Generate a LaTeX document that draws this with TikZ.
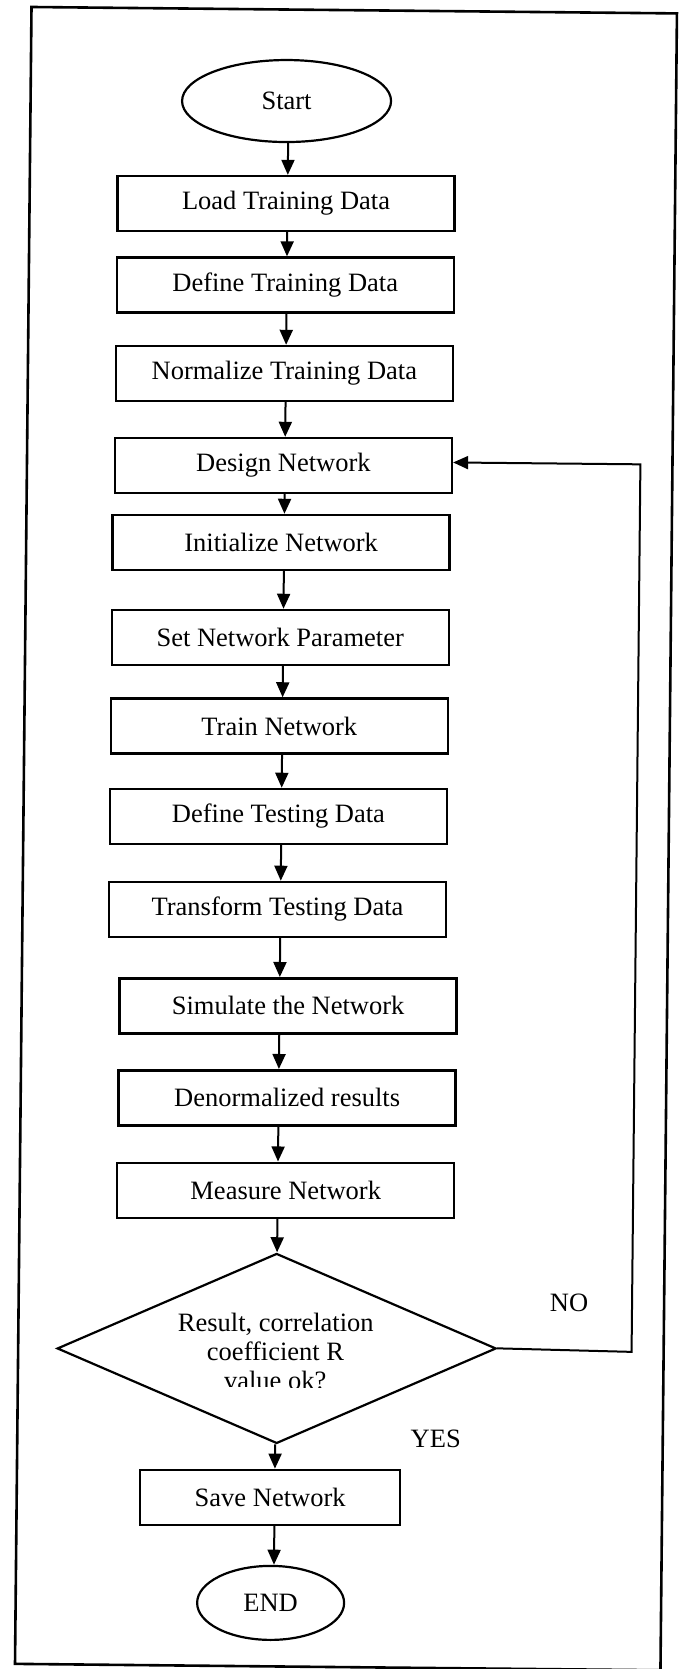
\documentclass[tikz,border=0pt]{standalone}
\usepackage{fontspec}
\setmainfont{Liberation Serif}
\usetikzlibrary{shapes.geometric,arrows.meta}
\newcommand\flowfont{\fontsize{26.5}{30}\selectfont}
\begin{document}
\begin{tikzpicture}[x=1pt,y=-1pt,
  box/.style={draw, line width=2.4pt, minimum width=337pt, minimum height=55pt, inner sep=0pt, font=\flowfont},
  term/.style={draw, ellipse, line width=2.2pt, inner sep=0pt, font=\flowfont},
  decis/.style={draw, diamond, line width=2.2pt, inner sep=0pt, minimum width=439pt, minimum height=190pt},
  arr/.style={line width=2pt, -{Triangle[length=15pt,width=13pt]}},
  lbl/.style={font=\flowfont, inner sep=0pt},
  frame/.style={line width=2.6pt}]
\useasboundingbox (0,0) rectangle (684,1669);
\begin{scope}[rotate around={-0.57:(32,7)}]
\draw[frame] (31.5,7) rectangle (677,1664);
\coordinate (ax) at (289.5,0);
\node[term, minimum width=209pt, minimum height=82pt] (start) at (287.5,98.5) {Start};
\node[box] (load)    at (288,201)    {Load Training Data};
\node[box] (deftr)   at (288,282.5)  {Define Training Data};
\node[box] (norm)    at (288,371)    {Normalize Training Data};
\node[box] (design)  at (288,463)    {Design Network};
\node[box] (init)    at (286.5,540)  {Initialize Network};
\node[box] (setnet)  at (286.5,635)  {Set Network Parameter};
\node[box] (train)   at (286.5,723.5){Train Network};
\node[box] (deftest) at (286.5,814)  {Define Testing Data};
\node[box] (transf)  at (286.5,907)  {Transform Testing Data};
\node[box] (simul)   at (298,1003.3) {Simulate the Network};
\node[box] (denorm)  at (298,1095.3) {Denormalized results};
\node[box] (measure) at (297.5,1187.8){Measure Network};
\node[decis] (dec) at (290,1346) {};
\node[lbl, anchor=base] (dl1) at (289,1329.5) {Result, correlation};
\node[lbl, anchor=base] (dl2) at (289,1358.5) {coefficient R};
\begin{scope}
\clip (150,1365) rectangle (430,1384.5);
\node[lbl, anchor=base] (dl3) at (289,1387.5) {value ok?};
\end{scope}
\node[box, minimum width=260pt] (save) at (285,1495) {Save Network};
\node[term, minimum width=147pt, minimum height=74pt] (endn) at (286.5,1600.5) {END};
\node[lbl] (no) at (582,1297) {NO};
\node[lbl] (yes) at (450,1435) {YES};
\coordinate (fb) at (645,1346);
\draw[arr] (start.south -| ax) -- (load.north -| ax);
\draw[arr] (load.south -| ax) -- (deftr.north -| ax);
\draw[arr] (deftr.south -| ax) -- (norm.north -| ax);
\draw[arr] (norm.south -| ax) -- (design.north -| ax);
\draw[arr] (design.south -| ax) -- (init.north -| ax);
\draw[arr] (init.south -| ax) -- (setnet.north -| ax);
\draw[arr] (setnet.south -| ax) -- (train.north -| ax);
\draw[arr] (train.south -| ax) -- (deftest.north -| ax);
\draw[arr] (deftest.south -| ax) -- (transf.north -| ax);
\draw[arr] (transf.south -| ax) -- (simul.north -| ax);
\draw[arr] (simul.south -| ax) -- (denorm.north -| ax);
\draw[arr] (denorm.south -| ax) -- (measure.north -| ax);
\draw[arr] (measure.south -| ax) -- (dec.north -| ax);
\draw[arr] (dec.south -| ax) -- (save.north -| ax);
\draw[arr] (save.south -| ax) -- (endn.north -| ax);
\draw[arr] (dec.east) -- (fb) |- ([yshift=3pt]design.east);
\end{scope}
\end{tikzpicture}
\end{document}
